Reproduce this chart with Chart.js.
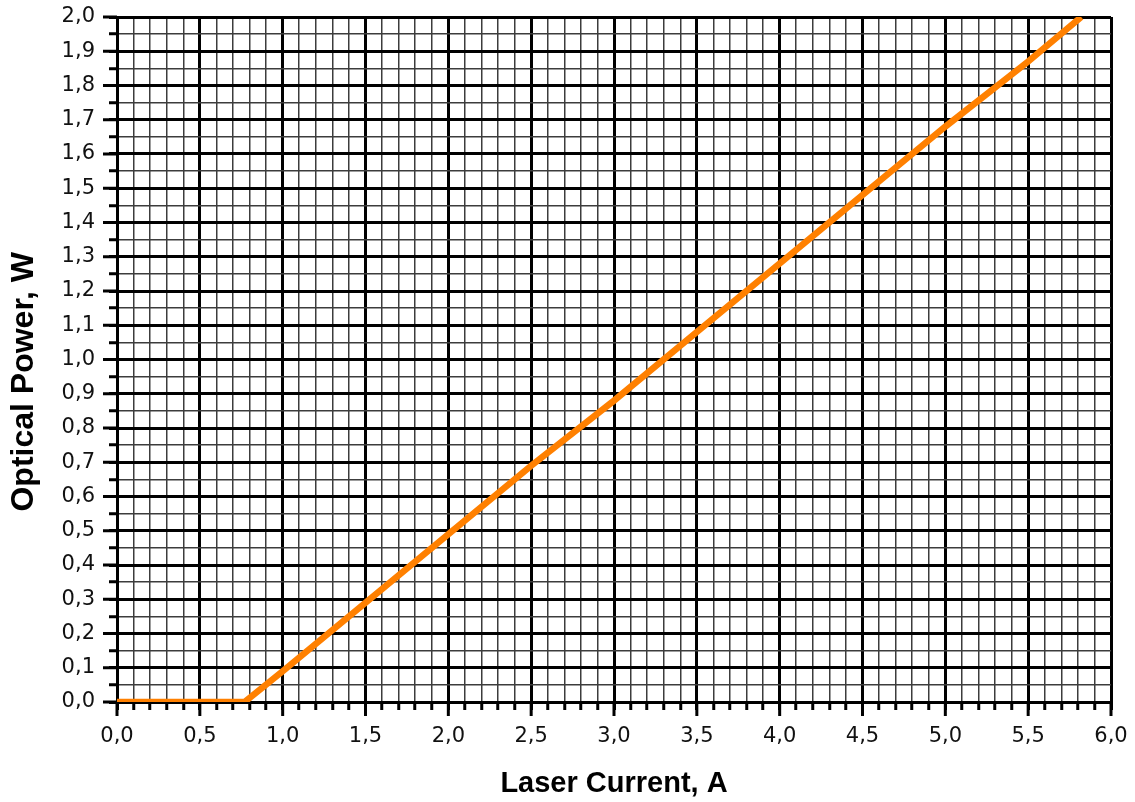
<!DOCTYPE html>
<html>
<head>
<meta charset="utf-8">
<script src="https://cdn.jsdelivr.net/npm/chart.js@4/dist/chart.umd.min.js"></script>
<style>
  html, body { margin: 0; padding: 0; background: #fff; }
  #wrap { width: 1135px; height: 802px; }
</style>
</head>
<body>
<div id="wrap"><canvas id="myChart" width="1135" height="802"></canvas></div>
<script>
// values
var laserCurrent = [0, 0.77, 1.0, 1.5, 2.0, 2.5, 3.0, 3.5, 4.0, 4.5, 5.0, 5.5, 5.82];
var opticalPower = [0, 0, 0.09, 0.29, 0.49, 0.69, 0.88, 1.08, 1.28, 1.48, 1.68, 1.87, 2.0];

var xTitle = 'Laser Current, A';
var yTitle = 'Optical Power, W     '; // trailing spaces push the text down a bit, like in the original

var TITLE_FONT = '"Liberation Sans", Arial, sans-serif';
var TICK_FONT = '"DejaVu Sans", Verdana, sans-serif';

function isMajorX(v) { return Math.round(v * 10) % 5 === 0; }
function isMajorY(v) { return Math.round(v * 100) % 10 === 0; }
function fmt(v) { return v.toFixed(1).replace('.', ','); }

var points = laserCurrent.map(function (x, i) { return {x: x, y: opticalPower[i]}; });

// longer tick marks on the labelled values
var majorTicks = {
    id: 'majorTicks',
    afterDraw: function (chart) {
        var ctx = chart.ctx;
        var area = chart.chartArea;
        var xs = chart.scales.x, ys = chart.scales.y;
        ctx.save();
        ctx.strokeStyle = '#000';
        ctx.lineWidth = 3;
        xs.ticks.forEach(function (t) {
            if (!isMajorX(t.value)) return;
            var px = xs.getPixelForValue(t.value);
            ctx.beginPath();
            ctx.moveTo(px, area.bottom);
            ctx.lineTo(px, area.bottom + 14);
            ctx.stroke();
        });
        ys.ticks.forEach(function (t) {
            if (!isMajorY(t.value)) return;
            var py = ys.getPixelForValue(t.value);
            ctx.beginPath();
            ctx.moveTo(area.left, py);
            ctx.lineTo(area.left - 14, py);
            ctx.stroke();
        });
        ctx.restore();
    }
};

var ctx = document.getElementById('myChart').getContext('2d');
var chart = new Chart(ctx, {
    type: 'line',
    data: {
        datasets: [{
            data: points,
            borderColor: '#ff8000',
            borderWidth: 6.5,
            pointRadius: 0,
            tension: 0,
            fill: false
        }]
    },
    options: {
        responsive: false,
        animation: false,
        layout: {padding: {top: 17, right: 24, left: 0, bottom: 0}},
        plugins: {legend: {display: false}, tooltip: {enabled: false}},
        scales: {
            x: {
                type: 'linear',
                min: 0,
                max: 6,
                afterFit: function (s) {
                    s.height = 100;
                    s.paddingLeft = 0;
                    s.paddingRight = 0;
                },
                ticks: {
                    stepSize: 0.1,
                    maxTicksLimit: 200,
                    autoSkip: false,
                    maxRotation: 0,
                    padding: 14,
                    color: '#111',
                    font: {family: TICK_FONT, size: 21},
                    callback: function (v) { return isMajorX(v) ? fmt(v) : ''; }
                },
                grid: {
                    color: function (c) { return c.tick && isMajorX(c.tick.value) ? '#000' : '#3c3c3c'; },
                    lineWidth: function (c) { return c.tick && isMajorX(c.tick.value) ? 3 : 1.5; },
                    tickColor: '#000',
                    tickWidth: 3,
                    tickLength: 8
                },
                border: {color: '#000', width: 3},
                title: {
                    display: true,
                    text: xTitle,
                    color: '#000',
                    font: {family: TITLE_FONT, size: 29, weight: 'bold'},
                    padding: {top: 0, bottom: 1}
                }
            },
            y: {
                min: 0,
                max: 2,
                afterFit: function (s) {
                    s.width = 117;
                    s.paddingTop = 0;
                    s.paddingBottom = 0;
                },
                ticks: {
                    stepSize: 0.05,
                    maxTicksLimit: 200,
                    autoSkip: false,
                    padding: 14,
                    color: '#111',
                    font: {family: TICK_FONT, size: 21},
                    callback: function (v) { return isMajorY(v) ? fmt(v) : ''; }
                },
                grid: {
                    color: function (c) { return c.tick && isMajorY(c.tick.value) ? '#000' : '#3c3c3c'; },
                    lineWidth: function (c) { return c.tick && isMajorY(c.tick.value) ? 3 : 1.5; },
                    tickColor: '#000',
                    tickWidth: 3,
                    tickLength: 8
                },
                border: {color: '#000', width: 3},
                title: {
                    display: true,
                    text: yTitle,
                    color: '#000',
                    font: {family: TITLE_FONT, size: 32, weight: 'bold'},
                    padding: {top: 5, bottom: 0}
                }
            }
        }
    },
    plugins: [majorTicks]
});
</script>
</body>
</html>
